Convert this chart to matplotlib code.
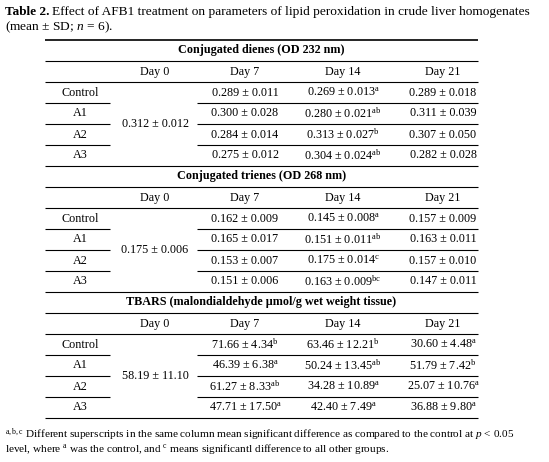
import matplotlib
matplotlib.use("Agg")
import matplotlib.pyplot as plt

plt.rcParams["font.family"] = ["Liberation Serif", "DejaVu Serif"]
plt.rcParams["mathtext.fontset"] = "custom"
plt.rcParams["mathtext.rm"] = "Liberation Serif"
plt.rcParams["mathtext.it"] = "Liberation Serif:italic"

W, H = 549, 462

groups = ["Control", "A1", "A2", "A3"]
days = ["Day 0", "Day 7", "Day 14", "Day 21"]

sections = [
    {
        "title": "Conjugated dienes (OD 232 nm)",
        "day0": "0.312 ± 0.012",
        "day7": [("0.289 ± 0.011", ""), ("0.300 ± 0.028", ""), ("0.284 ± 0.014", ""), ("0.275 ± 0.012", "")],
        "day14": [("0.269 ± 0.013", "a"), ("0.280 ± 0.021", "ab"), ("0.313 ± 0.027", "b"), ("0.304 ± 0.024", "ab")],
        "day21": [("0.289 ± 0.018", ""), ("0.311 ± 0.039", ""), ("0.307 ± 0.050", ""), ("0.282 ± 0.028", "")],
    },
    {
        "title": "Conjugated trienes (OD 268 nm)",
        "day0": "0.175 ± 0.006",
        "day7": [("0.162 ± 0.009", ""), ("0.165 ± 0.017", ""), ("0.153 ± 0.007", ""), ("0.151 ± 0.006", "")],
        "day14": [("0.145 ± 0.008", "a"), ("0.151 ± 0.011", "ab"), ("0.175 ± 0.014", "c"), ("0.163 ± 0.009", "bc")],
        "day21": [("0.157 ± 0.009", ""), ("0.163 ± 0.011", ""), ("0.157 ± 0.010", ""), ("0.147 ± 0.011", "")],
    },
    {
        "title": "TBARS (malondialdehyde µmol/g wet weight tissue)",
        "day0": "58.19 ± 11.10",
        "day7": [("71.66 ± 4.34", "b"), ("46.39 ± 6.38", "a"), ("61.27 ± 8.33", "ab"), ("47.71 ± 17.50", "a")],
        "day14": [("63.46 ± 12.21", "b"), ("50.24 ± 13.45", "ab"), ("34.28 ± 10.89", "a"), ("42.40 ± 7.49", "a")],
        "day21": [("30.60 ± 4.48", "a"), ("51.79 ± 7.42", "b"), ("25.07 ± 10.76", "a"), ("36.88 ± 9.80", "a")],
    },
]

fig = plt.figure(figsize=(W / 100, H / 100), dpi=100)
ax = fig.add_axes([0, 0, 1, 1])
ax.set_xlim(0, W)
ax.set_ylim(H, 0)
ax.axis("off")

FS = 8.7
LEFT, RIGHT = 45, 478
col_x = [80, 155, 245, 343, 443]


def hline(y, x0=LEFT, x1=RIGHT, lw=0.8):
    ax.plot([x0, x1], [y, y], color="black", lw=lw, solid_capstyle="butt")


def cell(x, y, val, sup=""):
    s = val + (r"$^{\mathrm{%s}}$" % sup if sup else "")
    ax.text(x, y, s, ha="center", va="center", fontsize=FS)


# caption
ax.text(5, 12, "Table 2.", fontsize=9.5, fontweight="bold", va="center")
ax.text(52, 12, "Effect of AFB1 treatment on parameters of lipid peroxidation in crude liver homogenates",
        fontsize=9.6, va="center")
ax.text(5, 27, r"(mean ± SD; $\mathit{n}$ = 6).", fontsize=9.6, va="center")

y = 40
hline(y, lw=1.2)
for sec in sections:
    ax.text((LEFT + RIGHT) / 2, y + 10.5, sec["title"], ha="center", va="center",
            fontsize=FS, fontweight="bold")
    hline(y + 21)
    for d, x in zip(days, col_x[1:]):
        ax.text(x, y + 31.5, d, ha="center", va="center", fontsize=FS)
    hline(y + 42)
    top = y + 42
    for i, g in enumerate(groups):
        ry = top + 10.5 + 21 * i
        ax.text(col_x[0], ry, g, ha="center", va="center", fontsize=FS)
        cell(col_x[2], ry, *sec["day7"][i])
        cell(col_x[3], ry, *sec["day14"][i])
        cell(col_x[4], ry, *sec["day21"][i])
        if i < len(groups) - 1:
            hline(ry + 10.5, LEFT, 110)
            hline(ry + 10.5, 197, RIGHT)
    cell(col_x[1], top + 42, sec["day0"])
    y = top + 84
    hline(y)

ax.text(5, 435, r"$^{\mathrm{a,b,c}}$ Different superscripts in the same column mean significant difference as compared to the control at $\mathit{p}$ < 0.05",
        fontsize=8.1, va="center")
ax.text(5, 449, r"level, where $^{\mathrm{a}}$ was the control, and $^{\mathrm{c}}$ means significantl difference to all other groups.",
        fontsize=8.1, va="center")

fig.savefig("out.png", dpi=100)
